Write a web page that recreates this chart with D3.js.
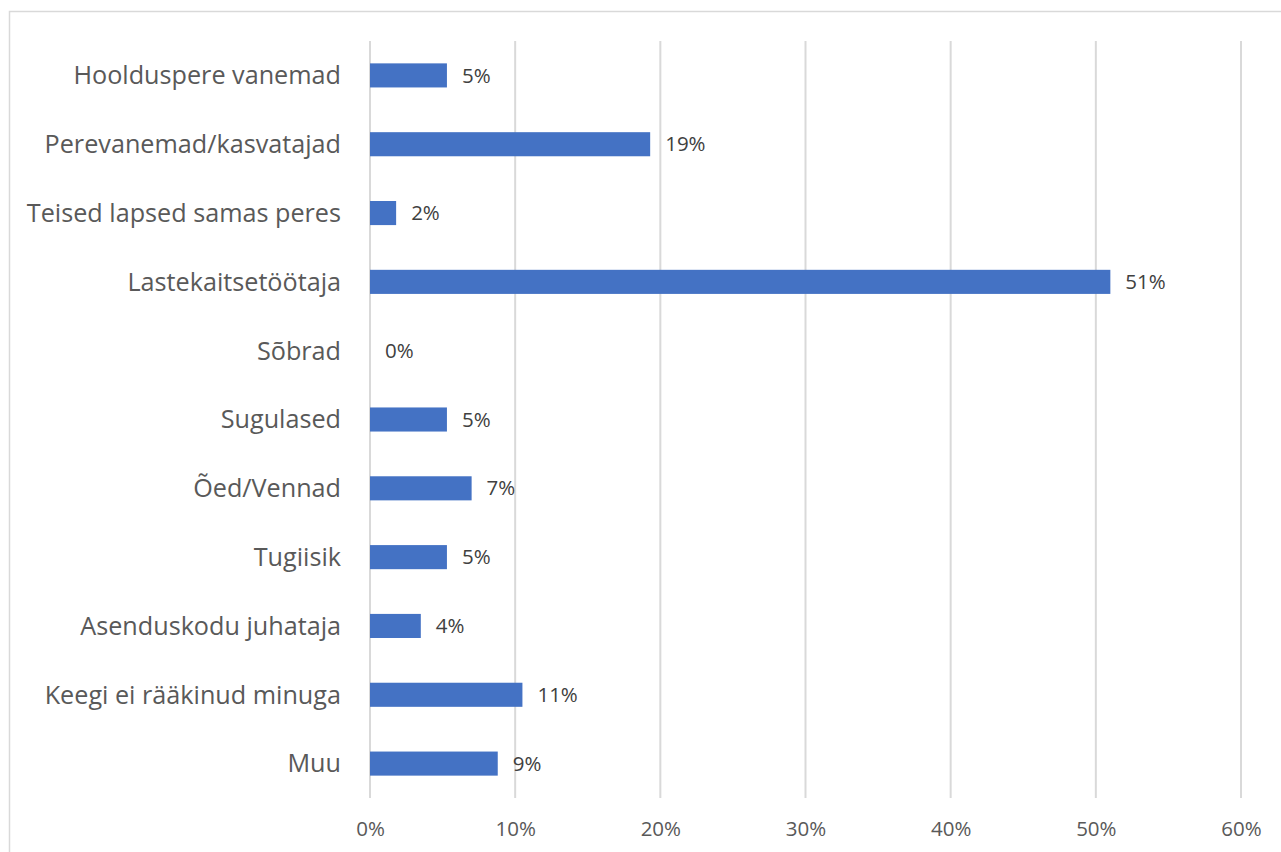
<!DOCTYPE html>
<html><head><meta charset="utf-8">
<script src="https://cdn.jsdelivr.net/npm/d3@7"></script>
<style>
html,body{margin:0;padding:0;background:#fff;}
svg{display:block;}
</style></head>
<body>
<svg id="chart" width="1281" height="852"></svg>
<script>
const categories = ["Hoolduspere vanemad","Perevanemad/kasvatajad","Teised lapsed samas peres","Lastekaitsetöötaja","Sõbrad","Sugulased","Õed/Vennad","Tugiisik","Asenduskodu juhataja","Keegi ei rääkinud minuga","Muu"];
const values = [5.3, 19.3, 1.8, 51.0, 0, 5.3, 7.0, 5.3, 3.5, 10.5, 8.8];
const labels = ["5%","19%","2%","51%","0%","5%","7%","5%","4%","11%","9%"];
const ticks = [0,10,20,30,40,50,60];

const svg = d3.select("#chart");
const font = "'Open Sans', sans-serif";

// chart border
svg.append("rect").attr("x",9.5).attr("y",11.5).attr("width",1290).attr("height",860)
  .attr("fill","none").attr("stroke","#d9d9d9").attr("stroke-width",1.5);

const x = d3.scaleLinear().domain([0,60]).range([370,1241]);
const y = d3.scaleBand().domain(categories).range([41,798]).paddingInner(0.65).paddingOuter(0.325);

// gridlines
svg.append("g").selectAll("line").data(ticks).join("line")
  .attr("x1",d=>x(d)).attr("x2",d=>x(d)).attr("y1",41).attr("y2",798)
  .attr("stroke","#d9d9d9").attr("stroke-width",2);

// x axis tick labels
const xAxis = d3.axisBottom(x).tickValues(ticks).tickFormat(d=>d+"%").tickSize(0).tickPadding(0);
const gx = svg.append("g").attr("transform","translate(0,821)").call(xAxis);
gx.select(".domain").remove();
gx.selectAll("text").attr("font-family",font).attr("font-size",20.5).attr("fill","#595959").attr("dy","0.71em");

// y axis labels
const yAxis = d3.axisLeft(y).tickSize(0).tickPadding(0);
const gy = svg.append("g").attr("transform","translate(341,0)").call(yAxis);
gy.select(".domain").remove();
gy.selectAll("text").attr("font-family",font).attr("font-size",25.2).attr("fill","#595959").attr("dy","0.35em");

// bars
svg.append("g").selectAll("rect").data(values).join("rect")
  .attr("x",x(0)).attr("y",(d,i)=>y(categories[i]))
  .attr("width",d=>x(d)-x(0)).attr("height",y.bandwidth())
  .attr("fill","#4472C4");

// data labels
svg.append("g").selectAll("text").data(values).join("text")
  .attr("x",d=>x(d)+15).attr("y",(d,i)=>y(categories[i])+y.bandwidth()/2)
  .attr("dy","0.35em").attr("font-family",font).attr("font-size",20.5).attr("fill","#404040")
  .text((d,i)=>labels[i]);
</script>
</body></html>
